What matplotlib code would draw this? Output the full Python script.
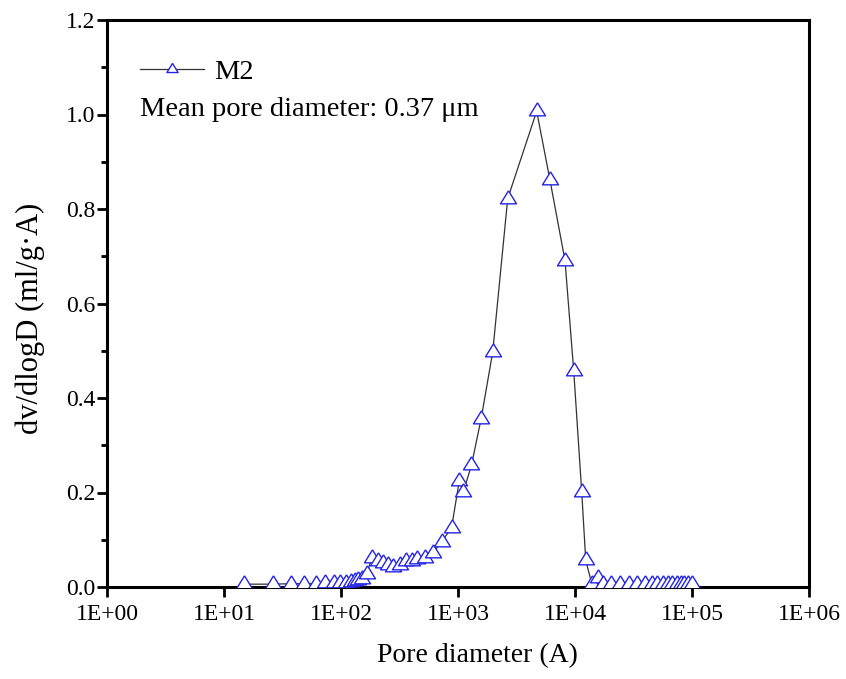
import matplotlib
matplotlib.use("Agg")
import matplotlib.pyplot as plt
from matplotlib.ticker import FixedLocator, MultipleLocator, NullLocator

plt.rcParams['font.family'] = ['Liberation Serif', 'DejaVu Serif']

# ---- data ----
pore_diameter = [14.8, 26.1, 37.4, 48.3, 61.1, 73.0, 86.3, 98.1, 109.3, 120.6,
                 130.5, 141.1, 151.2, 165.9, 183.0, 208.4, 229.9, 253.7, 280.0, 319.4,
                 359.4, 402.1, 443.6, 522.5, 615.0, 725.5, 880.0, 1026, 1110, 1304,
                 1573, 1980, 2660, 4706, 6113, 8213, 9747, 11410, 12350, 13890,
                 15820, 17460, 20190, 24250, 29130, 34080, 39650, 45250, 50500, 56200,
                 62000, 67900, 74000, 80000, 85900, 92900, 99400]
dv_dlogD = [0.006, 0.006, 0.007, 0.007, 0.007, 0.008, 0.008, 0.008, 0.009, 0.010,
            0.012, 0.014, 0.017, 0.027, 0.061, 0.056, 0.051, 0.047, 0.042, 0.046,
            0.056, 0.054, 0.060, 0.061, 0.073, 0.096, 0.125, 0.225, 0.201, 0.258,
            0.355, 0.497, 0.822, 1.007, 0.861, 0.691, 0.458, 0.202, 0.057, 0.007,
            0.020, 0.007, 0.007, 0.007, 0.007, 0.007, 0.007, 0.007, 0.007, 0.007,
            0.007, 0.007, 0.007, 0.007, 0.007, 0.007, 0.007]

series_label = "M2"
annotation = "Mean pore diameter: 0.37 \u03bcm"
x_ticks = [1e0, 1e1, 1e2, 1e3, 1e4, 1e5, 1e6]
x_tick_labels = ["1E+00", "1E+01", "1E+02", "1E+03", "1E+04", "1E+05", "1E+06"]
y_ticks = [0.0, 0.2, 0.4, 0.6, 0.8, 1.0, 1.2]
y_tick_labels = ["0.0", "0.2", "0.4", "0.6", "0.8", "1.0", "1.2"]

# ---- figure ----
fig = plt.figure(figsize=(8.46, 6.79), dpi=100)
ax = fig.add_axes([107/846, 1-587/679, (809-107)/846, (587-20)/679])

# triangle marker with centroid at the data point (Origin style)
tri = [(0, 1.0833), (-1, -0.5417), (1, -0.5417), (0, 1.0833)]
ax.plot(pore_diameter, dv_dlogD, color='#333333', lw=0.9,
        marker=tri, ms=12.5, mfc='white', mec='#2323e6', mew=1.0,
        label=series_label, zorder=3)

ax.set_xscale('log')
ax.set_xlim(1e0, 1e6)
ax.set_ylim(0.0, 1.2)
ax.xaxis.set_major_locator(FixedLocator(x_ticks))
ax.set_xticklabels(x_tick_labels)
ax.xaxis.set_minor_locator(NullLocator())
ax.yaxis.set_major_locator(FixedLocator(y_ticks))
ax.set_yticklabels(y_tick_labels)
ax.yaxis.set_minor_locator(MultipleLocator(0.1))

for s in ax.spines.values():
    s.set_linewidth(2.2)
ax.tick_params(axis='both', which='major', direction='out', length=7, width=2.0,
               labelsize=17)
ax.tick_params(axis='x', which='major', pad=5)
ax.tick_params(axis='y', which='major', pad=1.5)
ax.tick_params(axis='y', which='minor', direction='out', length=4.5, width=2.0)
ax.tick_params(top=False, right=False)

ax.set_xlabel("Pore diameter (A)", fontsize=20)
ax.xaxis.set_label_coords((477-107)/702, (587-643)/567)
ax.set_ylabel("dv/dlogD (ml/g\u00b7A)", fontsize=22)
ax.yaxis.set_label_coords((45-107)/702, (587-318)/567)

ax.legend(loc='center left', bbox_to_anchor=(0.047, 0.909), frameon=False,
          fontsize=20.5, borderpad=0, borderaxespad=0, handlelength=2.25,
          handletextpad=0.36, markerscale=0.7)
ax.text(0.047, 0.842, annotation, transform=ax.transAxes, fontsize=20.5,
        ha='left', va='center')

fig.savefig("out.png", dpi=100)
